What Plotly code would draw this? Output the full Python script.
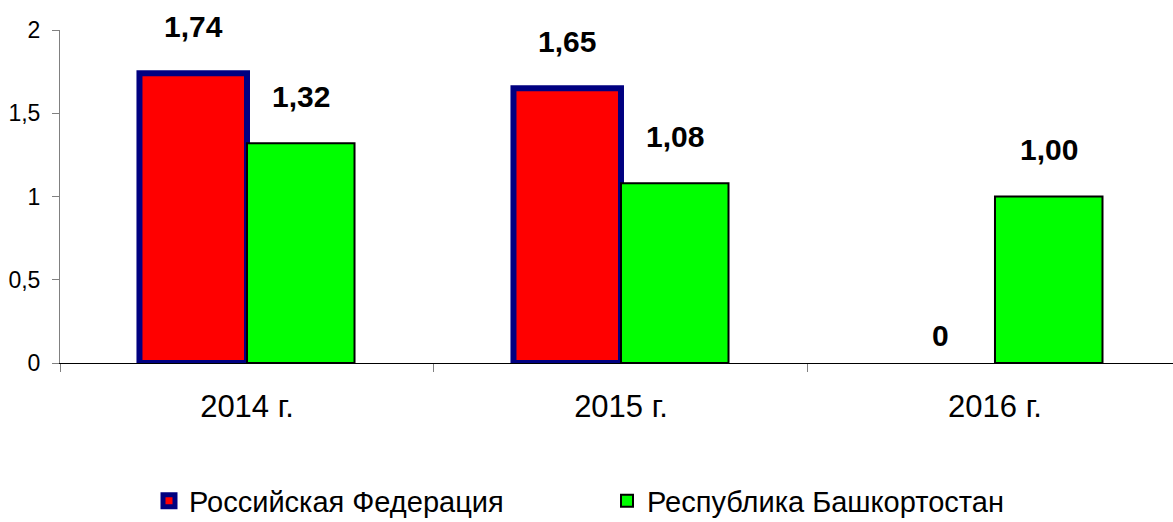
import plotly.graph_objects as go

categories = ["2014 г.", "2015 г.", "2016 г."]
rf_values = [1.74, 1.65, 0]
rb_values = [1.32, 1.08, 1.00]
rf_labels = ["1,74", "1,65", "0"]
rb_labels = ["1,32", "1,08", "1,00"]
y_ticks = [0, 0.5, 1, 1.5, 2]
y_tick_text = ["0", "0,5", "1", "1,5", "2"]

FONT = "Liberation Sans, Arial, sans-serif"

fig = go.Figure()
fig.add_trace(go.Bar(
    name="Российская Федерация", x=categories, y=rf_values,
    marker=dict(color="#FF0000",
                line=dict(color="#000080", width=[6 if v > 0 else 0 for v in rf_values])),
))
fig.add_trace(go.Bar(
    name="Республика Башкортостан", x=categories, y=rb_values,
    marker=dict(color="#00FF00", line=dict(color="#000000", width=2)),
))

for i, c in enumerate(categories):
    fig.add_annotation(x=c, y=rf_values[i], text=rf_labels[i], xref="x", yref="y",
                       showarrow=False, xshift=-54, yanchor="middle",
                       yshift=47 if rf_values[i] > 0 else 28,
                       font=dict(family=FONT, size=30, color="black", weight="bold"))
    fig.add_annotation(x=c, y=rb_values[i], text=rb_labels[i], xref="x", yref="y",
                       showarrow=False, xshift=54, yanchor="middle", yshift=47,
                       font=dict(family=FONT, size=30, color="black", weight="bold"))

fig.update_layout(
    width=1173, height=522,
    margin=dict(l=60, r=0, t=30, b=159),
    paper_bgcolor="white", plot_bgcolor="white",
    barmode="group", bargap=0.425, bargroupgap=0,
    font=dict(family=FONT, color="black"),
    showlegend=True,
    legend=dict(orientation="h", xref="container", yref="container",
                x=149/1173, xanchor="left", y=21/522, yanchor="middle",
                font=dict(family=FONT, size=29), entrywidth=413,
                itemwidth=30, tracegroupgap=0),
)
fig.update_xaxes(
    range=[-0.5, 2.476], showline=True, linecolor="black", linewidth=1,
    ticks="outside", tickson="boundaries", ticklen=8, tickcolor="#808080",
    tickfont=dict(size=31), showgrid=False, ticklabelstandoff=16,
)
fig.update_yaxes(
    range=[0, 2], tickvals=y_ticks, ticktext=y_tick_text,
    showline=True, linecolor="#808080", linewidth=1,
    ticks="outside", ticklen=7, tickcolor="#808080",
    tickfont=dict(size=23), showgrid=False, zeroline=False,
    ticklabelstandoff=7,
)

fig.write_html("out.html", config={"displayModeBar": False},
               post_script="document.body.style.margin='0';")
